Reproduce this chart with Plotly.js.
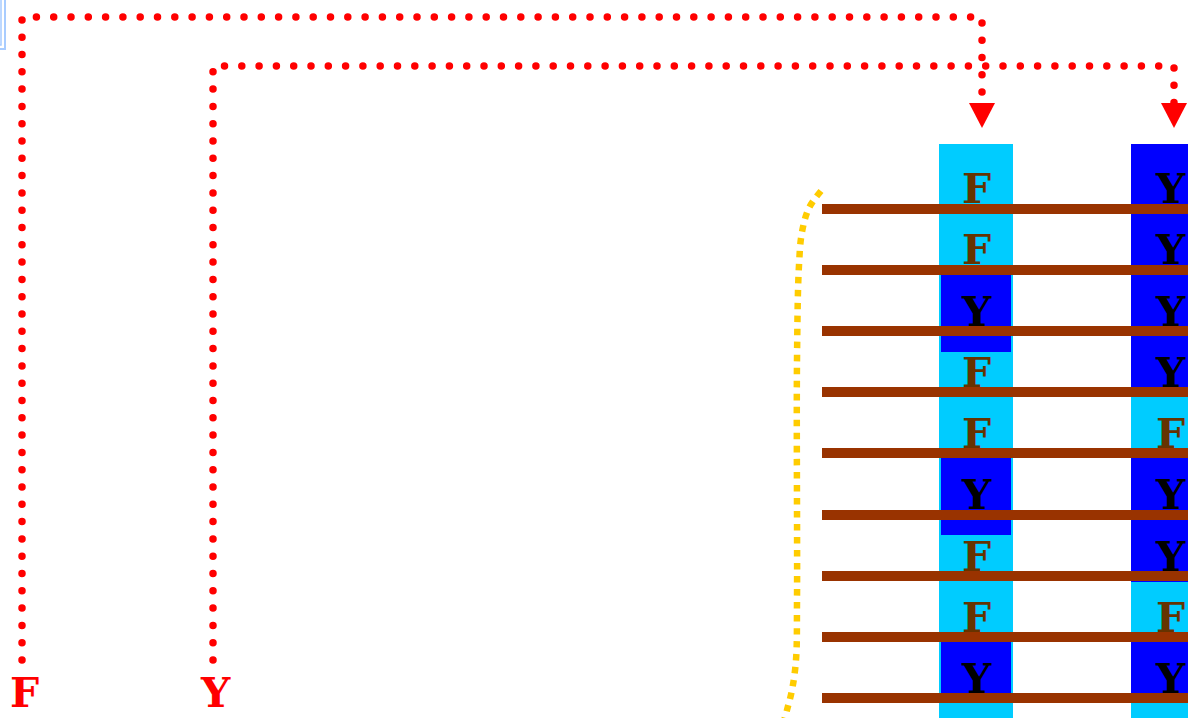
<!DOCTYPE html>
<html>
<head>
<meta charset="utf-8">
<script src="https://cdn.plot.ly/plotly-3.0.1.min.js"></script>
<style>
html,body{margin:0;padding:0;background:#fff;}
#chart{width:1188px;height:718px;}
</style>
</head>
<body>
<div id="chart"></div>
<script>
// ---- data ----
const columnNames = ['F', 'Y'];
const columnX = [976, 1170];          // letter centres / column centres
const arrowX = [982, 1174];           // where each route drops into its column
const columnBaseKind = ['F', 'Y'];
const rowY = [188, 249, 311, 372, 433, 494, 556, 617, 678];
const col1Letters = ['F','F','Y','F','F','Y','F','F','Y'];
const col2Letters = ['Y','Y','Y','Y','F','Y','Y','F','Y'];
const dividerY = [209, 270, 331, 392, 453, 515, 576, 637, 698];
const col1CellFrom = [275, 458, 642];
const col1CellTo   = [352, 535, 698];
const col1CellKind = ['Y', 'Y', 'Y'];
const col2CellFrom = [397, 582, 703];
const col2CellTo   = [448, 632, 730];
const col2CellKind = ['F', 'F', 'F'];
const sourceX = [22, 213];            // bottom labels F, Y
const sourceTopY = [17, 66];
const sourceBottomY = [660, 660];
const labelY = 692;
const arrowTipY = 128;
const curveX = [821, 809, 802, 799, 797, 797, 796, 792, 787, 782];
const curveY = [191, 208, 232, 265, 360, 600, 660, 690, 710, 728];

// ---- styles ----
const kindFill = {F: '#00ccff', Y: '#0000ff'};
const kindText = {F: '#663300', Y: '#000000'};
const colHalfW = 37;
const colTop = 144;
const font = 'DejaVu Serif';
const fontSize = 41;

const traces = [];
const shapes = [];
const annotations = [];

// top-left clipped box
shapes.push({type:'rect', xref:'x', yref:'y', x0:-20, x1:5, y0:-20, y1:49, line:{color:'#a8ccff', width:2}, fillcolor:'rgba(0,0,0,0)', layer:'below'});
shapes.push({type:'rect', xref:'x', yref:'y', x0:-20, x1:1, y0:-20, y1:45, line:{color:'#a8ccff', width:1.5}, fillcolor:'rgba(0,0,0,0)', layer:'below'});

// column bases
columnX.forEach((cx, i) => {
  const c = i === 0 ? cx : cx - 2;
  shapes.push({type:'rect', xref:'x', yref:'y', x0:c - colHalfW, x1:c + colHalfW, y0:colTop, y1:760,
    fillcolor:kindFill[columnBaseKind[i]], line:{width:0}, layer:'below'});
});
col1CellFrom.forEach((y0, i) => {
  shapes.push({type:'rect', xref:'x', yref:'y', x0:columnX[0] - colHalfW + 2, x1:columnX[0] + colHalfW - 2,
    y0:y0, y1:col1CellTo[i], fillcolor:kindFill[col1CellKind[i]], line:{width:0}, layer:'below'});
});
col2CellFrom.forEach((y0, i) => {
  shapes.push({type:'rect', xref:'x', yref:'y', x0:columnX[1] - colHalfW - 2, x1:columnX[1] + colHalfW + 20,
    y0:y0, y1:col2CellTo[i], fillcolor:kindFill[col2CellKind[i]], line:{width:0}, layer:'below'});
});

// brown dividers
dividerY.forEach(y => {
  traces.push({type:'scatter', mode:'lines', x:[822, 1200], y:[y, y],
    line:{color:'#993300', width:10}, hoverinfo:'skip'});
});

// yellow dotted curve
traces.push({type:'scatter', mode:'lines', x:curveX, y:curveY,
  line:{color:'#ffcc00', width:6.5, shape:'spline', smoothing:1, dash:'6.5px,6.5px'}, hoverinfo:'skip'});

// red dotted routes
const roundIdx = [];
sourceX.forEach((sx, i) => {
  roundIdx.push(traces.length);
  traces.push({type:'scatter', mode:'lines',
    x:[sx, sx, arrowX[i], arrowX[i]],
    y:[sourceBottomY[i], sourceTopY[i], sourceTopY[i], arrowTipY - 24],
    line:{color:'#ff0000', width:7.5, dash:'0px,17.3px'}, hoverinfo:'skip'});
  shapes.push({type:'path', xref:'x', yref:'y',
    path:`M${arrowX[i]-13},${arrowTipY-25} L${arrowX[i]+13},${arrowTipY-25} L${arrowX[i]},${arrowTipY} Z`,
    fillcolor:'#ff0000', line:{width:0}, layer:'above'});
  annotations.push({x:sx + 2, y:labelY + 1, xref:'x', yref:'y', text:'<b>' + columnNames[i] + '</b>', showarrow:false,
    font:{family:font, size:fontSize, color:'#ff0000'}, xanchor:'center', yanchor:'middle'});
});

// letters in columns
[col1Letters, col2Letters].forEach((letters, c) => {
  letters.forEach((l, r) => {
    annotations.push({x:columnX[c], y:rowY[r] + 1, xref:'x', yref:'y', text:'<b>' + l + '</b>', showarrow:false,
      font:{family:font, size:fontSize, color:kindText[l]}, xanchor:'center', yanchor:'middle'});
  });
});

const layout = {
  width:1188, height:718,
  margin:{l:0, r:0, t:0, b:0},
  paper_bgcolor:'#ffffff', plot_bgcolor:'#ffffff',
  showlegend:false,
  xaxis:{range:[0,1188], visible:false, fixedrange:true},
  yaxis:{range:[718,0], visible:false, fixedrange:true},
  shapes:shapes, annotations:annotations
};

Plotly.newPlot('chart', traces, layout, {displayModeBar:false, staticPlot:true}).then(gd => {
  const ts = gd.querySelectorAll('.scatterlayer .trace');
  ts.forEach((t, i) => {
    if (roundIdx.includes(i)) {
      const p = t.querySelector('.js-line');
      if (p) p.style.strokeLinecap = 'round';
    }
  });
});
</script>
</body>
</html>
